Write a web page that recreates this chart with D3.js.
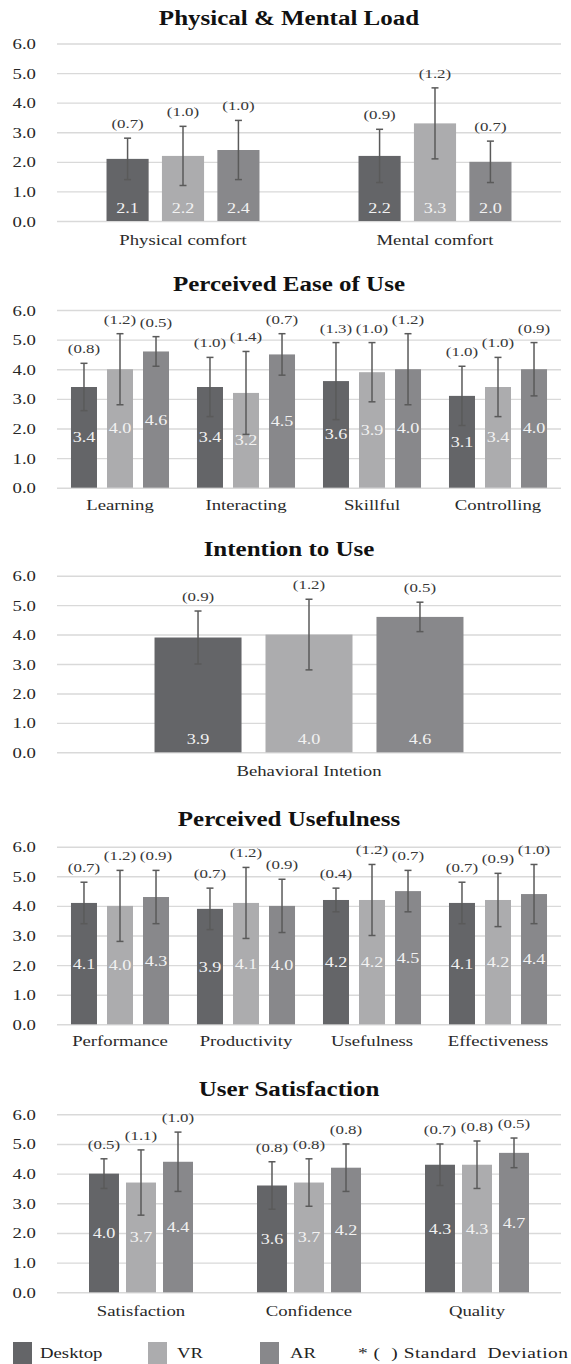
<!DOCTYPE html>
<html>
<head>
<meta charset="utf-8">
<script src="https://cdn.jsdelivr.net/npm/d3@7"></script>
<style>
  body { margin: 0; background: #fff; }
  svg { display: block; }
</style>
</head>
<body>
<svg id="chart" width="571" height="1364"></svg>
<script>
// ---- data ----
const seriesNames = ["Desktop", "VR", "AR"];
const yTicks = [0, 1, 2, 3, 4, 5, 6];

const loadCategories = ["Physical comfort", "Mental comfort"];
const loadDesktop = [2.1, 2.2];
const loadVR = [2.2, 3.3];
const loadAR = [2.4, 2.0];
const loadDesktopSD = [0.7, 0.9];
const loadVRSD = [1.0, 1.2];
const loadARSD = [1.0, 0.7];

const easeCategories = ["Learning", "Interacting", "Skillful", "Controlling"];
const easeDesktop = [3.4, 3.4, 3.6, 3.1];
const easeVR = [4.0, 3.2, 3.9, 3.4];
const easeAR = [4.6, 4.5, 4.0, 4.0];
const easeDesktopSD = [0.8, 1.0, 1.3, 1.0];
const easeVRSD = [1.2, 1.4, 1.0, 1.0];
const easeARSD = [0.5, 0.7, 1.2, 0.9];

const intentCategories = ["Behavioral Intetion"];
const intentDesktop = [3.9];
const intentVR = [4.0];
const intentAR = [4.6];
const intentDesktopSD = [0.9];
const intentVRSD = [1.2];
const intentARSD = [0.5];

const usefulCategories = ["Performance", "Productivity", "Usefulness", "Effectiveness"];
const usefulDesktop = [4.1, 3.9, 4.2, 4.1];
const usefulVR = [4.0, 4.1, 4.2, 4.2];
const usefulAR = [4.3, 4.0, 4.5, 4.4];
const usefulDesktopSD = [0.7, 0.7, 0.4, 0.7];
const usefulVRSD = [1.2, 1.2, 1.2, 0.9];
const usefulARSD = [0.9, 0.9, 0.7, 1.0];

const satisCategories = ["Satisfaction", "Confidence", "Quality"];
const satisDesktop = [4.0, 3.6, 4.3];
const satisVR = [3.7, 3.7, 4.3];
const satisAR = [4.4, 4.2, 4.7];
const satisDesktopSD = [0.5, 0.8, 0.7];
const satisVRSD = [1.1, 0.8, 0.8];
const satisARSD = [1.0, 0.8, 0.5];

// ---- styling / layout ----
const colors = ["#646568", "#acacae", "#88888b"];
const FONT = '"Liberation Serif", "Times New Roman", Times, serif';
const STRETCH = 1.25;          // horizontal stretch applied to all text
const plotLeft = 57, plotRight = 561;

const panels = [
  { title: "Physical & Mental Load", cats: loadCategories,
    means: [loadDesktop, loadVR, loadAR], sds: [loadDesktopSD, loadVRSD, loadARSD],
    titleY: 25, top: 43.5, bottom: 221, catY: 245, outer: 0.393, inner: 0.24, valuePos: "base" },
  { title: "Perceived Ease of Use", cats: easeCategories,
    means: [easeDesktop, easeVR, easeAR], sds: [easeDesktopSD, easeVRSD, easeARSD],
    titleY: 291, top: 310, bottom: 487.7, catY: 510, outer: 0.222, inner: 0.278, valuePos: "center" },
  { title: "Intention to Use", cats: intentCategories,
    means: [intentDesktop, intentVR, intentAR], sds: [intentDesktopSD, intentVRSD, intentARSD],
    titleY: 556, top: 575.7, bottom: 752.3, catY: 776, outer: 0.387, inner: 0.216, valuePos: "base" },
  { title: "Perceived Usefulness", cats: usefulCategories,
    means: [usefulDesktop, usefulVR, usefulAR], sds: [usefulDesktopSD, usefulVRSD, usefulARSD],
    titleY: 826, top: 846.7, bottom: 1024.3, catY: 1046, outer: 0.222, inner: 0.278, valuePos: "center" },
  { title: "User Satisfaction", cats: satisCategories,
    means: [satisDesktop, satisVR, satisAR], sds: [satisDesktopSD, satisVRSD, satisARSD],
    titleY: 1096, top: 1114.3, bottom: 1292.3, catY: 1316, outer: 0.381, inner: 0.19, valuePos: "center" }
];

const svg = d3.select("#chart").attr("font-family", FONT);

// text with the horizontal stretch, anchored at (x, y)
function stext(parent, x, y, str, anchor = "middle") {
  return parent.append("text")
    .attr("transform", `translate(${x},${y}) scale(${STRETCH},1)`)
    .attr("text-anchor", anchor)
    .attr("font-family", FONT)
    .text(str);
}

const fmt = d3.format(".1f");

panels.forEach(p => {
  const g = svg.append("g");

  const y = d3.scaleLinear().domain([0, 6]).range([p.bottom, p.top]);
  const x0 = d3.scaleBand().domain(p.cats).range([plotLeft, plotRight])
    .paddingInner(p.outer).paddingOuter(p.outer / 2);
  const x1 = d3.scaleBand().domain(seriesNames).range([0, x0.bandwidth()])
    .paddingInner(p.inner);

  // title
  stext(g, 289, p.titleY, p.title)
    .attr("font-size", 20).attr("font-weight", "bold").attr("fill", "#111");

  // y axis with gridlines
  const yAxis = g.append("g")
    .attr("transform", `translate(${plotLeft},0)`)
    .call(d3.axisLeft(y).tickValues(yTicks).tickSize(-(plotRight - plotLeft)).tickFormat(fmt))
    .attr("font-family", FONT);
  yAxis.select(".domain").remove();
  yAxis.selectAll(".tick line").attr("stroke", "#d9d9d9").attr("stroke-width", 1.4);
  yAxis.selectAll(".tick text")
    .attr("x", null).attr("dy", null)
    .attr("transform", `translate(-21,5) scale(${STRETCH},1)`)
    .attr("font-size", 15).attr("fill", "#262626");

  // category axis labels
  const xAxis = g.append("g")
    .attr("transform", `translate(0,${p.catY})`)
    .call(d3.axisBottom(x0).tickSize(0).tickPadding(0))
    .attr("font-family", FONT);
  xAxis.select(".domain").remove();
  xAxis.selectAll(".tick text")
    .attr("y", null).attr("dy", null)
    .attr("transform", `scale(${STRETCH},1)`)
    .attr("font-size", 15).attr("fill", "#2a2a2a");

  // rows: one per bar
  const rows = [];
  p.cats.forEach((c, i) => {
    seriesNames.forEach((s, k) => {
      rows.push({ cat: c, series: s, k, mean: p.means[k][i], sd: p.sds[k][i] });
    });
  });

  const groups = g.selectAll(".bar").data(rows).join("g").attr("class", "bar")
    .attr("transform", d => `translate(${x0(d.cat) + x1(d.series)},0)`);

  const bw = x1.bandwidth();

  groups.append("rect")
    .attr("x", 0).attr("width", bw)
    .attr("y", d => y(d.mean))
    .attr("height", d => y(0) - y(d.mean))
    .attr("fill", d => colors[d.k]);

  // value labels
  groups.each(function (d) {
    const yy = p.valuePos === "base" ? y(0) - 8 : (y(0) + y(d.mean)) / 2 + 5;
    stext(d3.select(this), bw / 2, yy, fmt(d.mean))
      .attr("font-size", 14.5).attr("fill", "#f2f2f2");
  });

  // error bars
  const ebColor = "#5a5a5a";
  groups.append("line")
    .attr("x1", bw / 2).attr("x2", bw / 2)
    .attr("y1", d => y(d.mean - d.sd)).attr("y2", d => y(d.mean + d.sd))
    .attr("stroke", ebColor).attr("stroke-width", 1.5);
  groups.append("line")
    .attr("x1", bw / 2 - 3.5).attr("x2", bw / 2 + 3.5)
    .attr("y1", d => y(d.mean + d.sd)).attr("y2", d => y(d.mean + d.sd))
    .attr("stroke", ebColor).attr("stroke-width", 1.5);
  groups.append("line")
    .attr("x1", bw / 2 - 3.5).attr("x2", bw / 2 + 3.5)
    .attr("y1", d => y(d.mean - d.sd)).attr("y2", d => y(d.mean - d.sd))
    .attr("stroke", ebColor).attr("stroke-width", 1.5);

  // standard deviation labels
  groups.each(function (d) {
    stext(d3.select(this), bw / 2, y(d.mean + d.sd) - 10, `(${fmt(d.sd)})`)
      .attr("font-size", 13.5).attr("fill", "#383838");
  });
});

// ---- legend ----
const legend = svg.append("g");
const legendSwatchX = [13, 148, 260];
const legendTextX = [40, 177, 290];
seriesNames.forEach((s, k) => {
  legend.append("rect")
    .attr("x", legendSwatchX[k]).attr("y", 1342)
    .attr("width", 19).attr("height", 22)
    .attr("fill", colors[k]);
  stext(legend, legendTextX[k], 1358, s, "start")
    .attr("font-size", 15).attr("fill", "#222");
});
stext(legend, 358, 1358, "* (  ) Standard  Deviation", "start")
  .attr("font-size", 15.5).attr("fill", "#222")
  .attr("textLength", 168).attr("lengthAdjust", "spacing")
  .style("white-space", "pre");
</script>
</body>
</html>
